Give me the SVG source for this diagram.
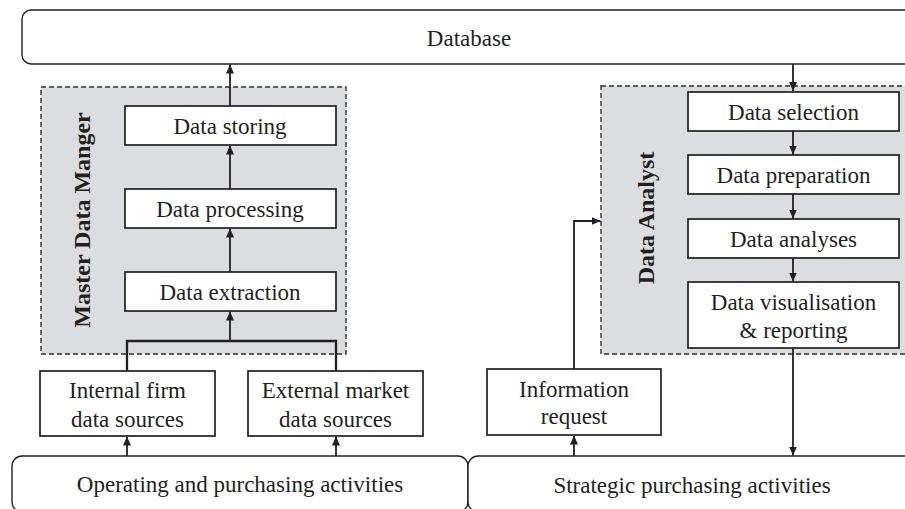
<svg xmlns="http://www.w3.org/2000/svg" width="905" height="509" viewBox="0 0 905 509">
  <defs>
    <marker id="arrow" viewBox="0 0 9 8" markerWidth="9" markerHeight="8" refX="9" refY="4" orient="auto" markerUnits="userSpaceOnUse">
      <path d="M0,0 L9,4 L0,8 z" fill="#231f20"/>
    </marker>
    <style>
      text { font-family: "Liberation Serif", "Times New Roman", serif; fill: #231f20; font-size: 23px; text-anchor: middle; }
      .role { font-weight: bold; font-size: 24px; }
      .box { fill: #ffffff; stroke: #231f20; stroke-width: 1.7; }
      .rbox { fill: #ffffff; stroke: #231f20; stroke-width: 1.4; }
      .group { fill: #dcdde0; stroke: #2e2e2e; stroke-width: 1.4; stroke-dasharray: 5 3; }
      .link { fill: none; stroke: #231f20; stroke-width: 1.8; }
      .arr { marker-end: url(#arrow); }
    </style>
  </defs>

  <!-- Database (top band) -->
  <g id="database">
    <rect class="rbox" x="22" y="10" width="910" height="54" rx="9"/>
    <text x="469" y="46">Database</text>
  </g>

  <!-- Activity bands at the bottom -->
  <g id="operating-activities">
    <rect class="rbox" x="12" y="456" width="456" height="56" rx="10"/>
    <text x="240" y="492">Operating and purchasing activities</text>
  </g>
  <g id="strategic-activities">
    <rect class="rbox" x="468" y="456" width="460" height="56" rx="10"/>
    <text x="692" y="493">Strategic purchasing activities</text>
  </g>

  <!-- Master Data Manager role -->
  <g id="master-data-manager">
    <rect class="group" x="41" y="87" width="305" height="267"/>
    <text class="role" transform="translate(90,220) rotate(-90)">Master Data Manger</text>
  </g>
  <g id="data-storing">
    <rect class="box" x="125" y="106" width="211" height="39"/>
    <text x="230" y="134">Data storing</text>
  </g>
  <g id="data-processing">
    <rect class="box" x="125" y="189" width="211" height="39"/>
    <text x="230" y="217">Data processing</text>
  </g>
  <g id="data-extraction">
    <rect class="box" x="125" y="272" width="211" height="39"/>
    <text x="230" y="300">Data extraction</text>
  </g>

  <!-- Data sources -->
  <g id="internal-sources">
    <rect class="box" x="40" y="371" width="175" height="65"/>
    <text x="127.5" y="398">Internal firm</text>
    <text x="127.5" y="427">data sources</text>
  </g>
  <g id="external-sources">
    <rect class="box" x="248" y="371" width="175" height="65"/>
    <text x="335.5" y="398">External market</text>
    <text x="335.5" y="427">data sources</text>
  </g>

  <!-- Data Analyst role -->
  <g id="data-analyst">
    <rect class="group" x="601" y="86" width="330" height="268"/>
    <text class="role" transform="translate(654,218) rotate(-90)">Data Analyst</text>
  </g>
  <g id="data-selection">
    <rect class="box" x="688" y="92" width="211" height="39"/>
    <text x="793.5" y="120">Data selection</text>
  </g>
  <g id="data-preparation">
    <rect class="box" x="688" y="155" width="211" height="39"/>
    <text x="793.5" y="183">Data preparation</text>
  </g>
  <g id="data-analyses">
    <rect class="box" x="688" y="219" width="211" height="39"/>
    <text x="793.5" y="247">Data analyses</text>
  </g>
  <g id="data-visualisation">
    <rect class="box" x="688" y="282" width="211" height="66"/>
    <text x="793.5" y="310">Data visualisation</text>
    <text x="793.5" y="338">&amp; reporting</text>
  </g>

  <g id="information-request">
    <rect class="box" x="487" y="369" width="174" height="66"/>
    <text x="574" y="397">Information</text>
    <text x="574" y="424">request</text>
  </g>

  <!-- Connectors -->
  <g id="connectors">
    <!-- left flow: sources up to the database -->
    <line class="link arr" x1="127" y1="456" x2="127" y2="436.5"/>
    <line class="link arr" x1="336" y1="456" x2="336" y2="436.5"/>
    <path class="link" d="M127,371 V341 H336 V371" style="stroke-width:2.3"/>
    <line class="link arr" x1="230" y1="341" x2="230" y2="311.5"/>
    <line class="link arr" x1="230" y1="272" x2="230" y2="228.5"/>
    <line class="link arr" x1="230" y1="189" x2="230" y2="145.5"/>
    <line class="link arr" x1="230" y1="106" x2="230" y2="64.5"/>

    <!-- right flow: database down to strategic activities -->
    <line class="link arr" x1="793" y1="64" x2="793" y2="91"/>
    <line class="link arr" x1="793" y1="131" x2="793" y2="154.5"/>
    <line class="link arr" x1="793" y1="194" x2="793" y2="218.5"/>
    <line class="link arr" x1="793" y1="258" x2="793" y2="281.5"/>
    <line class="link arr" x1="793" y1="348" x2="793" y2="455.5"/>

    <!-- information request loop -->
    <line class="link arr" x1="574" y1="456" x2="574" y2="435.5"/>
    <path class="link arr" d="M574,369 V221 H600.5"/>
  </g>
</svg>
